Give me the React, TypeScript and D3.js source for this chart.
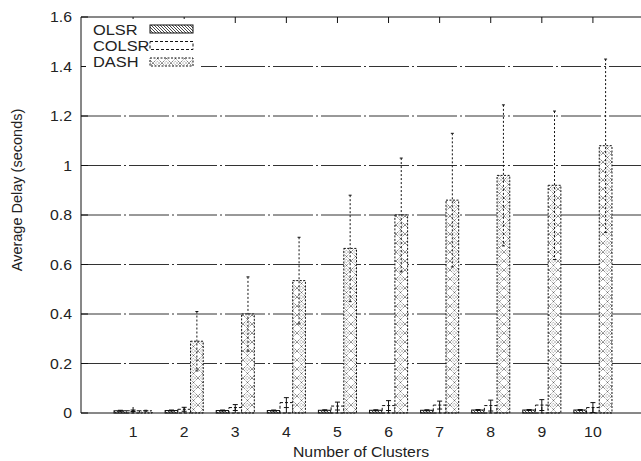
import React from 'react';
import * as d3 from 'd3';

// clusters on the x axis
const clusters = [1, 2, 3, 4, 5, 6, 7, 8, 9, 10];
const seriesNames = ['OLSR', 'COLSR', 'DASH'];

// average delay (seconds) and error half-widths
const olsr = [0.009, 0.01, 0.01, 0.01, 0.011, 0.011, 0.011, 0.012, 0.012, 0.012];
const olsrErr = [0.002, 0.002, 0.002, 0.002, 0.002, 0.002, 0.002, 0.002, 0.002, 0.002];
const colsr = [0.009, 0.015, 0.022, 0.042, 0.028, 0.03, 0.032, 0.03, 0.032, 0.022];
const colsrErr = [0.003, 0.008, 0.012, 0.02, 0.016, 0.02, 0.016, 0.022, 0.022, 0.02];
const dash = [0.009, 0.29, 0.4, 0.535, 0.665, 0.8, 0.86, 0.96, 0.92, 1.08];
const dashErr = [0.002, 0.12, 0.15, 0.175, 0.215, 0.23, 0.27, 0.285, 0.3, 0.35];

const yTicks = [0, 0.2, 0.4, 0.6, 0.8, 1, 1.2, 1.4, 1.6];

const FONT = '"Liberation Sans", Arial, sans-serif';
const INK = '#222';

const App = () => {
  const left = 81;
  const top = 17;
  const bottom = 413;
  const right = 644;

  const x = d3.scaleLinear().domain([0, 11]).range([left + 1, right]);
  const y = d3.scaleLinear().domain([0, 1.6]).range([bottom, top]);
  const barW = 12.7;

  const series = [
    { name: seriesNames[0], vals: olsr, err: olsrErr, fill: 'url(#hatch)', dash: 'none' },
    { name: seriesNames[1], vals: colsr, err: colsrErr, fill: '#fff', dash: '3,2' },
    { name: seriesNames[2], vals: dash, err: dashErr, fill: 'url(#dots)', dash: '2,1.5' },
  ];

  const fmt = (v: number) => (v === 0 ? '0' : v === 1 ? '1' : d3.format('.1f')(v));

  // the scanned text is a bit stretched sideways
  const hText = (tx: number, ty: number, s: string, anchor: string, size = 14) => (
    <text
      key={`${s}-${tx}-${ty}`}
      transform={`translate(${tx},${ty}) scale(1.13,1)`}
      textAnchor={anchor}
      fontSize={size}
      fontFamily={FONT}
      fill={INK}
    >
      {s}
    </text>
  );

  return (
    <svg width={641} height={461} style={{ position: 'absolute', left: 0, top: 0, background: '#fff' }}>
      <defs>
        <pattern id="hatch" patternUnits="userSpaceOnUse" width={3} height={3}>
          <rect width={3} height={3} fill="#fff" />
          <path d="M-1,-1 L4,4 M-1,2 L1,4 M2,-1 L4,1" stroke="#333" strokeWidth={0.9} />
        </pattern>
        <pattern id="dots" patternUnits="userSpaceOnUse" width={9} height={9}>
          <rect width={9} height={9} fill="#fff" />
          <path d="M0,0 L9,9 M9,0 L0,9" stroke="#555" strokeWidth={1} strokeDasharray="1,1" />
          <circle cx={4.5} cy={0} r={1.6} fill="none" stroke="#777" strokeWidth={0.8} strokeDasharray="1,1" />
          <circle cx={4.5} cy={9} r={1.6} fill="none" stroke="#777" strokeWidth={0.8} strokeDasharray="1,1" />
        </pattern>
      </defs>

      {/* grid */}
      {yTicks.slice(1, -1).map((t) => (
        <line key={t} x1={left} x2={right} y1={y(t)} y2={y(t)} stroke="#333" strokeWidth={1} strokeDasharray="40,3,2,3" />
      ))}

      {/* bars */}
      {series.map((s, si) =>
        clusters.map((c, i) => {
          const bx = x(c) - 1.5 * barW + si * barW;
          return (
            <rect
              key={`${s.name}-${c}`}
              x={bx}
              y={y(s.vals[i])}
              width={barW}
              height={bottom - y(s.vals[i])}
              fill={s.fill}
              stroke="#111"
              strokeWidth={1}
              strokeDasharray={s.dash}
            />
          );
        })
      )}

      {/* error bars */}
      {series.map((s, si) =>
        clusters.map((c, i) => {
          const cx = x(c) - barW + si * barW;
          const hi = y(s.vals[i] + s.err[i]);
          const lo = y(Math.max(0, s.vals[i] - s.err[i]));
          const cap = si === 2 ? 1.5 : 2.5;
          const da = si === 2 ? '2,2' : 'none';
          return (
            <g key={`e-${s.name}-${c}`} stroke="#111" strokeWidth={1}>
              <line x1={cx} x2={cx} y1={hi} y2={lo} strokeDasharray={da} />
              <line x1={cx - cap} x2={cx + cap} y1={hi} y2={hi} />
              <line x1={cx - cap} x2={cx + cap} y1={lo} y2={lo} />
            </g>
          );
        })
      )}

      {/* frame */}
      <line x1={left} x2={left} y1={top} y2={bottom} stroke="#111" />
      <line x1={left} x2={right} y1={top} y2={top} stroke="#111" />
      <line x1={left} x2={right} y1={bottom} y2={bottom} stroke="#111" />
      {yTicks.map((t) => (
        <line key={`yt-${t}`} x1={left} x2={left + 7} y1={y(t)} y2={y(t)} stroke="#111" />
      ))}
      {clusters.map((c) => (
        <g key={`xt-${c}`} stroke="#111">
          <line x1={x(c)} x2={x(c)} y1={top} y2={top + 6} />
          <line x1={x(c)} x2={x(c)} y1={bottom} y2={bottom - 6} />
        </g>
      ))}

      {/* tick labels */}
      {yTicks.map((t) => hText(72, y(t) + 5, fmt(t), 'end'))}
      {clusters.map((c) => hText(x(c), 437, String(c), 'middle'))}

      {/* axis titles */}
      {hText(361, 457, 'Number of Clusters', 'middle')}
      <text
        transform={`translate(22,190) rotate(-90)`}
        textAnchor="middle"
        fontSize={14.5}
        fontFamily={FONT}
        fill={INK}
      >
        Average Delay (seconds)
      </text>

      {/* legend */}
      <rect x={86} y={19} width={115} height={52} fill="#fff" />
      {series.map((s, si) => (
        <g key={`lg-${s.name}`}>
          {hText(93, 34.5 + si * 16, s.name, 'start', 14.5)}
          <rect
            x={150}
            y={25 + si * 16.5}
            width={43}
            height={8}
            fill={s.fill}
            stroke="#111"
            strokeWidth={1}
            strokeDasharray={s.dash}
          />
        </g>
      ))}
    </svg>
  );
};

export default App;
